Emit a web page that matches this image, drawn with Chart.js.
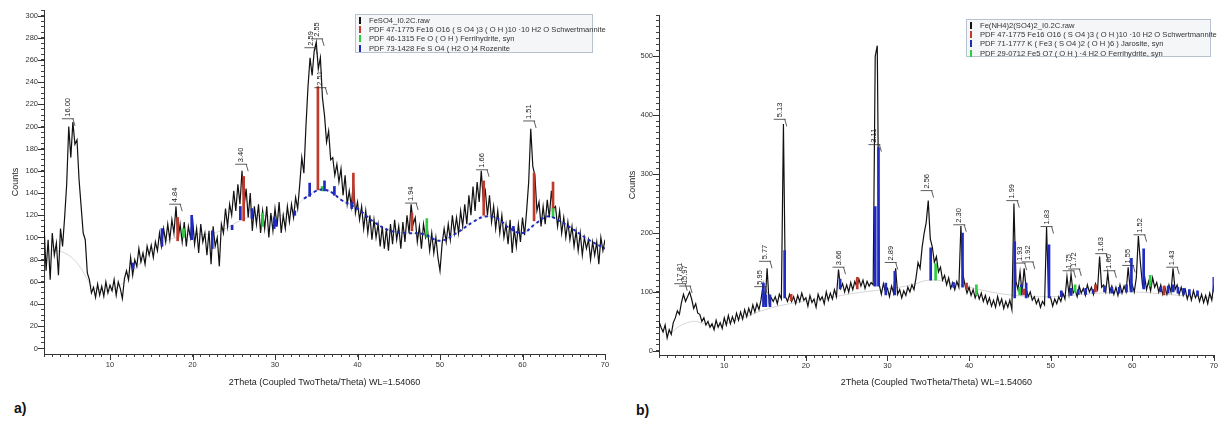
<!DOCTYPE html>
<html>
<head>
<meta charset="utf-8">
<script src="https://cdn.jsdelivr.net/npm/chart.js@4.4.1/dist/chart.umd.min.js"></script>
<style>
body { margin:0; background:#fff; width:1221px; height:424px; overflow:hidden; position:relative; font-family:'Liberation Sans', Arial, sans-serif; }
canvas { position:absolute; top:0; }
.legend { position:absolute; background:#f4f6f8; border:1px solid #b9c3cf; font-size:7.6px; color:#333; padding:1px 0 0 3px; box-sizing:border-box; }
.legend div { height:9.2px; line-height:9.2px; white-space:nowrap; }
.legend i { display:inline-block; width:2px; height:7px; margin-right:8px; vertical-align:-1px; }
.tag { position:absolute; font:bold 14px 'Liberation Sans', Arial, sans-serif; color:#111; }
</style>
</head>
<body>
<canvas id="chartA" width="615" height="395" style="left:0"></canvas>
<canvas id="chartB" width="606" height="395" style="left:615px"></canvas>

<div class="legend" style="left:355px;top:14px;width:238px;height:39px">
  <div><i style="background:#111"></i>FeSO4_I0.2C.raw</div>
  <div><i style="background:#c0392b"></i>PDF 47-1775 Fe16 O16 ( S O4 )3 ( O H )10 ·10 H2 O Schwertmannite</div>
  <div><i style="background:#2ecc40"></i>PDF 46-1315 Fe O ( O H ) Ferrihydrite, syn</div>
  <div><i style="background:#1f2bc0"></i>PDF 73-1428 Fe S O4 ( H2 O )4 Rozenite</div>
</div>
<div class="legend" style="left:966px;top:19px;width:245px;height:38px">
  <div><i style="background:#111"></i>Fe(NH4)2(SO4)2_I0.2C.raw</div>
  <div><i style="background:#c0392b"></i>PDF 47-1775 Fe16 O16 ( S O4 )3 ( O H )10 ·10 H2 O Schwertmannite</div>
  <div><i style="background:#1f2bc0"></i>PDF 71-1777 K ( Fe3 ( S O4 )2 ( O H )6 ) Jarosite, syn</div>
  <div><i style="background:#2ecc40"></i>PDF 29-0712 Fe5 O7 ( O H ) ·4 H2 O Ferrihydrite, syn</div>
</div>
<div class="tag" style="left:14px;top:400px">a)</div>
<div class="tag" style="left:636px;top:402px">b)</div>

<script>
// 2theta grid of the scans: 2 .. 70 deg, 0.25 deg apart
let thetaStart = 2;
let thetaStep = 0.25;

// a) FeSO4 scan, counts per step (4 values per degree)
let countsA = [
  112, 70, 98, 62,   104, 84, 95, 66,   108, 92, 118, 148,  200, 172, 204, 184,
  188, 152, 128, 104, 98, 68, 62, 50,   55, 46, 58, 48,    56, 47, 60, 50,
  57, 52, 62, 48,    60, 54, 45, 63,    70, 62, 82, 66,    80, 74, 90, 78,
  86, 76, 92, 84,    93, 82, 96, 88,    104, 92, 108, 96,  112, 98, 116, 104,
  128, 98, 112, 96,  114, 92, 110, 100, 118, 94, 108, 86,  112, 96, 104, 84,
  106, 76, 110, 92,  100, 74, 112, 104, 126, 110, 130, 120, 142, 124, 148, 130,
  160, 128, 144, 118, 140, 106, 128, 112, 130, 104, 124, 108, 128, 100, 122, 106,
  126, 110, 132, 104, 120, 108, 128, 114, 130, 118, 136, 126, 148, 172, 158, 200,
  236, 262, 246, 268, 276, 252, 262, 226, 210, 186, 196, 170, 172, 156, 166, 150,
  162, 138, 156, 130, 142, 128, 150, 122, 132, 116, 128, 108, 124, 104, 120, 98,
  116, 100, 112, 92, 110, 90, 108, 88,  112, 94, 116, 98,  110, 90, 114, 96,
  120, 104, 130, 112, 118, 96, 110, 90, 112, 100, 106, 88, 104, 86, 100, 82,
  70, 94, 108, 96,   112, 98, 120, 104, 118, 104, 124, 110, 130, 112, 138, 120,
  146, 124, 150, 132, 160, 134, 142, 120, 138, 114, 128, 108, 124, 104, 120, 100,
  112, 94, 116, 86,  108, 92, 112, 96,  118, 102, 124, 150, 198, 164, 156, 124,
  132, 110, 128, 112, 134, 118, 142, 126, 128, 110, 124, 104, 118, 100, 114, 98,
  110, 92, 106, 88,  104, 84, 100, 90,  98, 80, 96, 84,    96, 76, 100, 88,
  98
];

// b) Fe(NH4)2(SO4)2 scan
let countsB = [
  50, 40, 32, 44,    22, 36, 28, 48,    56, 68, 62, 82,    96, 84, 92, 100,
  88, 72, 80, 64,    62, 50, 56, 44,    50, 40, 46, 36,    52, 40, 48, 38,
  56, 44, 60, 46,    58, 48, 64, 52,    66, 54, 70, 58,    72, 62, 78, 66,
  80, 70, 86, 112,   80, 140, 82, 90,   84, 92, 80, 96,    88, 385, 92, 84,
  96, 84, 92, 80,    94, 84, 98, 86,    90, 76, 94, 82,    88, 74, 96, 86,
  92, 80, 100, 86,   98, 88, 104, 92,   138, 106, 114, 100, 112, 100, 116, 104,
  118, 108, 122, 110, 120, 106, 118, 110, 116, 112, 500, 518, 112, 96, 114, 100,
  106, 92, 110, 98,  140, 96, 104, 90,  102, 94, 108, 100, 112, 104, 124, 150,
  140, 176, 200, 218, 255, 190, 176, 150, 160, 134, 142, 120, 128, 112, 124, 106,
  116, 104, 118, 108, 212, 130, 112, 98, 108, 94, 104, 90,  100, 88, 98, 84,
  94, 80, 90, 76,    86, 74, 92, 78,    88, 72, 84, 74,    86, 70, 250, 118,
  104, 134, 98, 140, 106, 92, 100, 86,  92, 80, 88, 74,    84, 78, 210, 96,
  90, 76, 88, 80,    92, 84, 98, 88,    126, 96, 130, 98,  104, 92, 110, 98,
  106, 94, 112, 100, 108, 96, 114, 104, 160, 108, 112, 100, 132, 100, 110, 96,
  108, 94, 112, 98,  110, 100, 142, 104, 112, 100, 124, 195, 150, 112, 128, 104,
  118, 102, 124, 108, 116, 100, 112, 96, 108, 96, 112, 100, 140, 104, 112, 96,
  108, 94, 104, 88,  100, 86, 102, 90,  98, 84, 96, 82,    94, 80, 98, 86,
  112
];

// fitted backgrounds [2theta, counts]
let backgroundA = [[2.8,88],[3.5,88],[4.5,86],[5.5,81],[6.5,72],[7.2,63],[8,55],[10,52],[12,62],[14,80],
  [16,94],[18,100],[20,103],[22,103],[24,108],[26,116],[28,120],[30,119],[32,124],[33.5,135],[35,142],
  [36,143],[37,140],[38,134],[40,126],[42,114],[44,106],[46,104],[48,103],[50,97],[52,104],[54,114],
  [55.5,119],[57,117],[58.5,108],[60,104],[61.5,112],[63,119],[64,117],[66,108],[68,98],[70,90]];
let backgroundB = [[3.5,30],[4.5,42],[5.5,48],[6.5,50],[7.5,46],[9,42],[12,55],[15,70],[18,80],[22,88],
  [26,98],[30,105],[33,112],[35,120],[37,118],[40,108],[45,95],[50,92],[55,97],[60,100],[65,95],[70,90]];

// reference sticks [2theta, from, to]
let schwertA = [[18.2,97,118],[26.2,115,155],[35.2,143,236],[39.5,130,158],[46.6,106,122],[55.3,120,151],[61.4,115,158],[63.7,124,150]];
let ferriA = [[18.9,100,108],[28.5,110,122],[35.7,142,146],[48.4,100,117],[63.7,118,126]];
let rozeniteA = [[12.8,72,77],[16.3,92,108],[19.9,98,120],[22.4,90,106],[24.8,107,111],[25.8,116,128],[27.2,117,126],
  [29.9,108,118],[30.1,110,116],[32.4,120,124],[34.2,137,149],[36.0,142,151],[37.2,138,146],[39.3,126,132],[58.9,106,110]];

let schwertB = [[18.2,85,96],[26.3,105,125],[39.7,105,115],[46.7,95,105],[55.5,100,112],[63.9,95,110]];
let jarositeB = [[14.8,75,115],[15.1,75,95],[15.6,75,95],[17.4,90,170],[24.2,105,122],[28.5,110,245],[28.9,110,345],
  [29.8,95,115],[30.9,95,135],[35.3,120,175],[38.1,108,116],[39.2,108,200],[45.6,90,185],[46.4,95,112],[47.0,90,115],
  [49.8,90,180],[51.3,92,102],[52.5,94,106],[53.4,96,104],[54.3,96,106],[55.2,98,104],[56.6,100,110],[57.5,98,108],
  [58.4,98,108],[59.3,100,112],[59.9,100,157],[61.4,105,173],[63.5,100,108],[64.4,98,110],[65.0,100,112],[65.6,98,108],
  [66.3,96,106],[67.0,95,104],[68.0,94,102],[70.0,100,125]];
let ferriB = [[35.9,120,148],[40.9,95,112],[46.2,95,108],[53.0,100,112],[62.2,110,128]];

// peak labels (d-spacing)
let peakThetaA = [4.9, 17.9, 25.9, 34.3, 35.1, 35.5, 46.5, 55.1, 60.8];
let peakCountsA = [207, 130, 166, 271, 279, 235, 131, 161, 205];
let peakTextA = ['16.00', '4.84', '3.40', '2.59', '2.55', '2.51', '1.94', '1.66', '1.51'];

let peakThetaB = [4.6, 5.2, 14.4, 15.0, 16.8, 24.0, 28.4, 30.4, 34.8, 38.8, 45.3, 46.2, 47.2, 49.5, 52.2, 52.9, 56.2, 57.2, 59.5, 60.9, 64.9];
let peakCountsB = [114, 110, 109, 152, 393, 142, 350, 150, 272, 214, 255, 149, 151, 211, 136, 139, 165, 136, 145, 197, 142];
let peakTextB = ['17.81', '15.97', '5.95', '5.77', '5.13', '3.66', '3.11', '2.89', '2.56', '2.30', '1.99', '1.93', '1.92', '1.83', '1.75', '1.72', '1.63', '1.60', '1.55', '1.52', '1.43'];

Chart.defaults.font.family = "'Liberation Sans', Arial, sans-serif";

function toPoints(counts) {
    return counts.map((c, i) => ({x: thetaStart + i * thetaStep, y: c}));
}
function toXY(list) {
    return list.map(p => ({x: p[0], y: p[1]}));
}
function toSticks(list) {
    return list.map(s => ({x: s[0], y: [s[1], s[2]]}));
}

// d-spacing labels: small bracket with the value written upwards
let peakLabels = {
    id: 'peakLabels',
    afterDatasetsDraw(chart, args, opts) {
        let ctx = chart.ctx;
        ctx.save();
        ctx.font = "7.5px 'Liberation Sans', Arial, sans-serif";
        ctx.fillStyle = '#222';
        ctx.strokeStyle = '#333';
        ctx.lineWidth = 0.8;
        opts.theta.forEach((t, i) => {
            let px = chart.scales.x.getPixelForValue(t);
            let py = chart.scales.y.getPixelForValue(opts.counts[i]);
            ctx.beginPath();
            ctx.moveTo(px - 6, py);
            ctx.lineTo(px + 6, py);
            ctx.moveTo(px + 5, py);
            ctx.lineTo(px + 7, py + 7);
            ctx.stroke();
            ctx.save();
            ctx.translate(px, py - 2);
            ctx.rotate(-Math.PI / 2);
            ctx.textAlign = 'left';
            ctx.textBaseline = 'middle';
            ctx.fillText(opts.text[i], 0, 0);
            ctx.restore();
        });
        ctx.restore();
    }
};

// longer tick marks at the labelled values
let majorTicks = {
    id: 'majorTicks',
    afterDraw(chart, args, opts) {
        let ctx = chart.ctx, a = chart.chartArea;
        ctx.save();
        ctx.strokeStyle = '#333';
        ctx.lineWidth = 1;
        ctx.beginPath();
        for (let v = 10; v <= 70; v += 10) {
            let px = Math.round(chart.scales.x.getPixelForValue(v)) + 0.5;
            ctx.moveTo(px, a.bottom);
            ctx.lineTo(px, a.bottom + 6);
        }
        for (let v = 0; v <= opts.top; v += opts.step) {
            let py = Math.round(chart.scales.y.getPixelForValue(v)) + 0.5;
            ctx.moveTo(a.left - 6, py);
            ctx.lineTo(a.left, py);
        }
        ctx.stroke();
        ctx.restore();
    }
};

function makeChart(id, s) {
    let stickSet = (list, color) => ({
        type: 'bar', data: toSticks(list), backgroundColor: color,
        barThickness: 2, grouped: false, order: 1
    });
    let datasets = [
        {type: 'line', data: toPoints(s.counts), borderColor: '#111', borderWidth: 1.2,
         pointRadius: 0, tension: 0, order: 2},
        {type: 'line', data: toXY(s.background), borderColor: '#d6d6d6', borderWidth: 1,
         pointRadius: 0, tension: 0.4, order: 3}
    ];
    if (s.trace) {
        datasets.push({type: 'line', data: toXY(s.trace), borderColor: '#1f2bc0', borderWidth: 2,
            borderDash: [3, 3], pointRadius: 0, tension: 0.4, order: 1});
    }
    s.sticks.forEach(st => datasets.push(stickSet(st[0], st[1])));

    return new Chart(document.getElementById(id), {
        type: 'line',
        data: {datasets: datasets},
        plugins: [peakLabels, majorTicks],
        options: {
            responsive: false,
            animation: false,
            events: [],
            layout: {padding: {top: s.padTop, right: s.padRight, left: 0, bottom: 0}},
            plugins: {
                legend: {display: false},
                tooltip: {enabled: false},
                peakLabels: {theta: s.peakTheta, counts: s.peakCounts, text: s.peakText},
                majorTicks: {top: s.yTop, step: s.yLabelStep}
            },
            scales: {
                x: {
                    type: 'linear', min: 2, max: 70, offset: false,
                    afterBuildTicks: sc => {
                        sc.ticks = [];
                        for (let v = 2; v <= 70; v++) sc.ticks.push({value: v});
                    },
                    afterFit: sc => { sc.height = s.xHeight; },
                    ticks: {autoSkip: false, maxRotation: 0, padding: 3, color: '#333', font: {size: 7.5},
                        callback: v => v % 10 === 0 ? v : ''},
                    grid: {drawOnChartArea: false, tickLength: 3, tickColor: '#444', offset: false},
                    border: {color: '#333', width: 1},
                    title: {display: true, text: '2Theta (Coupled TwoTheta/Theta) WL=1.54060',
                        color: '#222', font: {size: 9}, padding: {top: 0, bottom: 7}}
                },
                y: {
                    type: 'linear', min: s.yMin, max: s.yMax,
                    afterBuildTicks: sc => {
                        sc.ticks = [];
                        for (let v = 0; v <= s.yMax; v += s.yMinor) sc.ticks.push({value: v});
                    },
                    afterFit: sc => { sc.width = 44; },
                    ticks: {autoSkip: false, padding: 3, color: '#333', font: {size: 7.5},
                        callback: v => v % s.yLabelStep === 0 ? v : ''},
                    grid: {drawOnChartArea: false, tickLength: 3, tickColor: '#444'},
                    border: {color: '#333', width: 1},
                    title: {display: true, text: 'Counts', color: '#222', font: {size: 9},
                        padding: {top: s.titleLeft, bottom: 0}}
                }
            }
        }
    });
}

makeChart('chartA', {
    counts: countsA, background: backgroundA,
    trace: backgroundA.filter(p => p[0] >= 33.5),
    sticks: [[rozeniteA, '#1f2bc0'], [ferriA, '#2ecc40'], [schwertA, '#c0392b']],
    peakTheta: peakThetaA, peakCounts: peakCountsA, peakText: peakTextA,
    yMin: -5, yMax: 305, yMinor: 5, yLabelStep: 20, yTop: 300,
    padTop: 10, padRight: 10, xHeight: 41, titleLeft: 10
});

makeChart('chartB', {
    counts: countsB, background: backgroundB, trace: null,
    sticks: [[schwertB, '#c0392b'], [ferriB, '#2ecc40'], [jarositeB, '#1f2bc0']],
    peakTheta: peakThetaB, peakCounts: peakCountsB, peakText: peakTextB,
    yMin: -7, yMax: 570, yMinor: 10, yLabelStep: 100, yTop: 500,
    padTop: 15, padRight: 6, xHeight: 40, titleLeft: 12
});
</script>
</body>
</html>
